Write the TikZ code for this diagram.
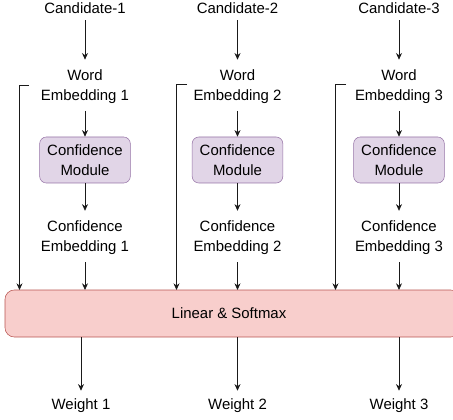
\documentclass[tikz,border=0pt]{standalone}
\usepackage{fontspec}
\setmainfont{Liberation Sans}
\usetikzlibrary{arrows.meta,calc}
\definecolor{purpfill}{HTML}{E1D5E7}
\definecolor{purpline}{HTML}{9673A6}
\definecolor{redfill}{HTML}{F8CECC}
\definecolor{redline}{HTML}{B85450}
\definecolor{linecol}{HTML}{1A1A1A}
\begin{document}
\begin{tikzpicture}[x=0.75pt,y=-0.75pt,
  txt/.style={inner sep=0pt,align=center,font=\fontsize{11.2}{15}\selectfont,text=black},
  modbox/.style={draw=purpline,fill=purpfill,rounded corners=5pt,minimum width=68pt,minimum height=34.5pt,inner sep=0pt,align=center,font=\fontsize{11.2}{15}\selectfont},
  linbox/.style={draw=redline,fill=redfill,rounded corners=7pt,inner sep=0pt},
  arr/.style={draw=linecol,line width=0.6pt,-{Stealth[length=5pt,width=4.5pt]}}]
\useasboundingbox (0,0) rectangle (453,420);
% columns
\foreach \i/\x in {1/85,2/237.5,3/399}{
  \node[txt,minimum height=18pt] (cand\i) at (\x,8) {Candidate-\i};
  \node[txt,minimum height=36pt] (word\i) at (\x,86.5) {Word\\Embedding \i};
  \node[modbox] (mod\i) at (\x,160) {Confidence\\Module};
  \node[txt,minimum height=36pt] (conf\i) at (\x,238) {Confidence\\Embedding \i};
}
\node[txt,minimum height=22.5pt] (wt1) at (81,406) {Weight 1};
\node[txt,minimum height=22.5pt] (wt2) at (237.5,406) {Weight 2};
\node[txt,minimum height=22.5pt] (wt3) at (399,406) {Weight 3};
\path[linbox] (5,290) rectangle (460,337);
\node[txt] (lin) at (229,313.5) {Linear \& Softmax};
\coordinate (lintop) at (229,290);
\coordinate (linbot) at (229,337);
% bypass corners
\coordinate (t1) at (29,85);   \coordinate (b1) at (19.5,85);
\coordinate (t2) at (187,84);  \coordinate (b2) at (176.5,84);
\coordinate (t3) at (346,84);  \coordinate (b3) at (335.5,84);
\foreach \i in {1,2,3}{
  \draw[arr] (cand\i.south) -- ([yshift=1.9pt]word\i.north);
  \draw[arr] (word\i.south) -- (mod\i.north);
  \draw[arr] (mod\i.south) -- ([yshift=2.2pt]conf\i.north);
  \draw[arr] (conf\i.south) -- (conf\i.south |- lintop);
  \draw[arr] (t\i) -- (b\i) -- (b\i |- lintop);
  \draw[arr] (wt\i.north |- linbot) -- (wt\i.north);
}
\end{tikzpicture}
\end{document}
